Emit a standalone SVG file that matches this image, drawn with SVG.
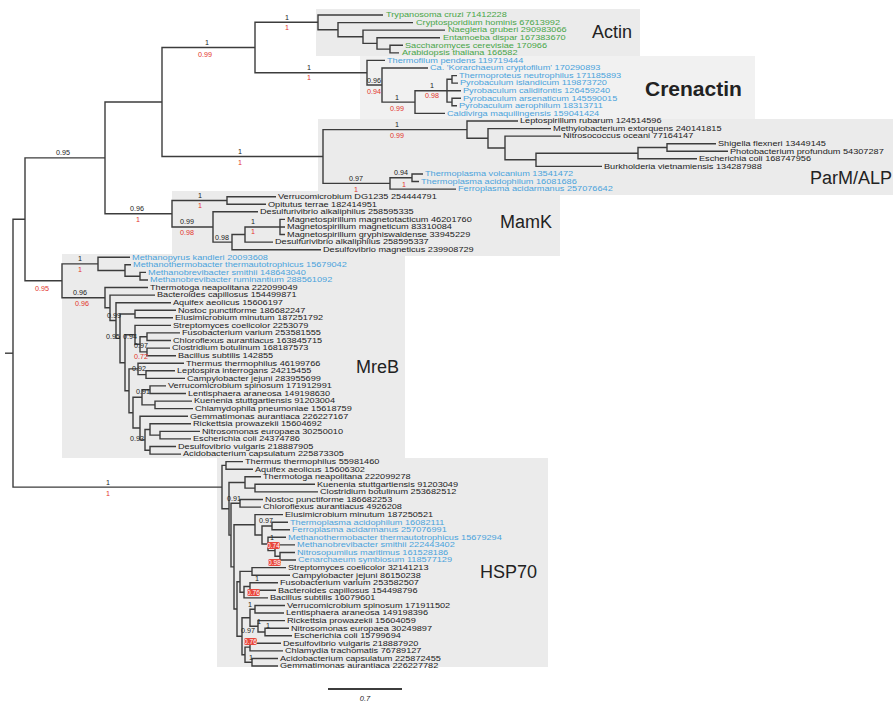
<svg xmlns="http://www.w3.org/2000/svg" width="893" height="703" viewBox="0 0 893 703">
<style>
text{font-family:"Liberation Sans",Arial,sans-serif}
.l,.g,.b{font-size:6.7px}
.l{fill:#222}
.g{fill:#48a548}
.b{fill:#4aa3dc}
.s{font-size:7.2px;fill:#222;text-anchor:middle}
.r{font-size:7.2px;fill:#e3342b;text-anchor:middle}
.rb rect{fill:#e8473d}
.rb text{font-size:6.6px;fill:#fff;text-anchor:middle}
.box{fill:#ebebeb}
.cl{font-size:18px;fill:#222}
#connectors path{fill:none;stroke:#3c3c3c;stroke-width:1.4}
</style>
<rect width="893" height="703" fill="#fff"/>
<g id="clade-boxes">
<g id="box-actin"><rect class="box" x="316" y="9" width="324" height="47"/><text class="cl" x="592" y="38">Actin</text></g>
<g id="box-crenactin"><rect x="360" y="56" width="395" height="63" fill="#f1f1f1"/><text x="645" y="96" style="font-size:21px;font-weight:bold;fill:#222">Crenactin</text></g>
<g id="box-parm"><rect class="box" x="318" y="119" width="575" height="76"/><text class="cl" x="810" y="184">ParM/ALP</text></g>
<g id="box-mamk"><rect class="box" x="172" y="191" width="388" height="65"/><text class="cl" x="500" y="228">MamK</text></g>
<g id="box-mreb"><rect class="box" x="62" y="254" width="343" height="204"/><text class="cl" x="356" y="373">MreB</text></g>
<g id="box-hsp70"><rect class="box" x="217" y="458" width="331" height="209"/><text class="cl" x="480" y="578">HSP70</text></g>
</g>
<g id="connectors">
<path d="M5,353.2H13"/>
<path d="M25,219.3H13V487.1H222"/>
<path d="M105,157.9H25V280.8H62"/>
<path d="M162,102H105V213.7H172"/>
<path d="M255,47.5H162V156.5H323"/>
<path d="M318,22.3H255V72.7H367"/>
<path d="M383,15H318V29.7H338"/>
<path d="M413,22.6H338V36.8H363"/>
<path d="M445,30.1H363V43.4H377"/>
<path d="M440,37.7H377V49.1H390"/>
<path d="M403,45.3H390V52.9H399"/>
<path d="M385,60.4H367V85H382"/>
<path d="M428,68H382V102.1H415"/>
<path d="M447,90.7H415V113.4H445"/>
<path d="M452,79.3H447V102.1H452M447,90.7H461"/>
<path d="M457,75.6H452V83.1H458"/>
<path d="M461,98.3H452V105.8H457"/>
<path d="M467,129.6H323V183.4H390"/>
<path d="M518,121H467V138.3H488"/>
<path d="M551,128.6H488V148H505"/>
<path d="M561,136.1H505V159.8H536"/>
<path d="M638,153.2H536V166.4H602"/>
<path d="M667,147.5H638V158.8H697"/>
<path d="M716,143.7H667V151.3H728"/>
<path d="M412,177.8H390V189.1H456"/>
<path d="M423,174H412V181.5H419"/>
<path d="M227,200.5H172V227H213"/>
<path d="M276,196.7H227V204.3H266"/>
<path d="M258,211.8H213V242.1H232"/>
<path d="M245,234.5H232V249.7H321"/>
<path d="M280,227H245V242.1H273"/>
<path d="M285,219.4H280V234.5H285M280,227H285"/>
<path d="M98,263.9H62V297.7H105"/>
<path d="M130,257.2H98V270.5H125"/>
<path d="M131,264.8H125V276.2H140"/>
<path d="M146,272.4H140V280H148"/>
<path d="M148,287.5H105V307.8H110"/>
<path d="M155,295.1H110V320.5H116"/>
<path d="M171,302.7H116V338.4H120"/>
<path d="M135,314H120V362.8H125"/>
<path d="M176,310.2H135V317.8H173"/>
<path d="M135,334.8H125V390.8H129"/>
<path d="M171,325.4H135V344.3H140"/>
<path d="M147,336.7H140V351.9H147"/>
<path d="M180,332.9H147V340.5H171"/>
<path d="M170,348.1H147V355.7H176"/>
<path d="M138,368.9H129V412.7H133"/>
<path d="M184,363.2H138V374.6H146"/>
<path d="M175,370.8H146V378.4H185"/>
<path d="M142,397.3H133V428H140"/>
<path d="M150,389.7H142V404.9H155"/>
<path d="M166,385.9H150V393.5H186"/>
<path d="M192,401.1H155V408.6H193"/>
<path d="M188,416.2H140V439.9H145"/>
<path d="M150,429.5H145V450.3H150"/>
<path d="M191,423.8H150V435.1H160"/>
<path d="M200,431.4H160V438.9H191"/>
<path d="M176,446.5H150V454.1H181"/>
<path d="M226,465.4H222V508.8H229"/>
<path d="M243,461.6H226V469.2H253"/>
<path d="M245,482.5H229V535.1H231"/>
<path d="M261,476.8H245V488.1H255"/>
<path d="M315,484.3H255V491.9H318"/>
<path d="M240,503.3H231V566.9H234"/>
<path d="M263,499.5H240V507.1H261"/>
<path d="M255,524.8H234V609H237"/>
<path d="M283,514.6H255V535H262"/>
<path d="M272,526H262V544H268"/>
<path d="M288,522.2H272V529.8H290"/>
<path d="M286,537.3H268V550.6H275"/>
<path d="M295,544.9H275V556.3H280"/>
<path d="M295,552.5H280V560H296"/>
<path d="M240,581.8H237V636.2H242"/>
<path d="M252,571.4H240V592.2H244"/>
<path d="M286,567.6H252V575.2H290"/>
<path d="M250,586.5H244V597.9H268"/>
<path d="M278,582.8H250V590.3H276"/>
<path d="M250,617.8H242V654.7H245"/>
<path d="M255,609.3H250V626.3H258"/>
<path d="M285,605.5H255V613H284"/>
<path d="M285,620.6H258V632H265"/>
<path d="M289,628.2H265V635.7H292"/>
<path d="M250,647.1H245V662.2H252"/>
<path d="M281,643.3H250V650.9H283"/>
<path d="M278,658.5H252V666H278"/>
<path d="M328,689H402" style="stroke-width:2"/>
</g>
<g id="scale-label"><text x="365" y="701" style="font-size:7.5px;font-style:italic;fill:#222;text-anchor:middle">0.7</text></g>
<g id="leaves-actin">
<g id="n0" transform="translate(386,17.3)"><text class="g" transform="scale(1.37,1)">Trypanosoma cruzi 71412228</text></g>
<g id="n1" transform="translate(416,24.9)"><text class="g" transform="scale(1.37,1)">Cryptosporidium hominis 67613992</text></g>
<g id="n2" transform="translate(448,32.4)"><text class="g" transform="scale(1.37,1)">Naegleria gruberi 290983066</text></g>
<g id="n3" transform="translate(443,40)"><text class="g" transform="scale(1.37,1)">Entamoeba dispar 167383670</text></g>
<g id="n4" transform="translate(405,47.6)"><text class="g" transform="scale(1.37,1)">Saccharomyces cerevisiae 170966</text></g>
<g id="n5" transform="translate(402,55.2)"><text class="g" transform="scale(1.37,1)">Arabidopsis thaliana 166582</text></g>
</g>
<g id="leaves-crenactin">
<g id="n6" transform="translate(387,62.7)"><text class="b" transform="scale(1.37,1)">Thermofilum pendens 119719444</text></g>
<g id="n7" transform="translate(430,70.3)"><text class="b" transform="scale(1.37,1)">Ca. 'Korarchaeum cryptofilum' 170290893</text></g>
<g id="n8" transform="translate(459,77.9)"><text class="b" transform="scale(1.37,1)">Thermoproteus neutrophilus 171185893</text></g>
<g id="n9" transform="translate(460,85.4)"><text class="b" transform="scale(1.37,1)">Pyrobaculum islandicum 119873720</text></g>
<g id="n10" transform="translate(463,93)"><text class="b" transform="scale(1.37,1)">Pyrobaculum calidifontis 126459240</text></g>
<g id="n11" transform="translate(463,100.6)"><text class="b" transform="scale(1.37,1)">Pyrobaculum arsenaticum 145590015</text></g>
<g id="n12" transform="translate(459,108.1)"><text class="b" transform="scale(1.37,1)">Pyrobaculum aerophilum 18313711</text></g>
<g id="n13" transform="translate(447,115.7)"><text class="b" transform="scale(1.37,1)">Caldivirga maquilingensis 159041424</text></g>
</g>
<g id="leaves-parm">
<g id="n14" transform="translate(520,123.3)"><text class="l" transform="scale(1.37,1)">Leptospirillum rubarum 124514596</text></g>
<g id="n15" transform="translate(553,130.9)"><text class="l" transform="scale(1.37,1)">Methylobacterium extorquens 240141815</text></g>
<g id="n16" transform="translate(563,138.4)"><text class="l" transform="scale(1.37,1)">Nitrosococcus oceani 77164147</text></g>
<g id="n17" transform="translate(718,146)"><text class="l" transform="scale(1.37,1)">Shigella flexneri 13449145</text></g>
<g id="n18" transform="translate(730,153.6)"><text class="l" transform="scale(1.37,1)">Photobacterium profundum 54307287</text></g>
<g id="n19" transform="translate(699,161.1)"><text class="l" transform="scale(1.37,1)">Escherichia coli 168747956</text></g>
<g id="n20" transform="translate(604,168.7)"><text class="l" transform="scale(1.37,1)">Burkholderia vietnamiensis 134287988</text></g>
<g id="n21" transform="translate(425,176.3)"><text class="b" transform="scale(1.37,1)">Thermoplasma volcanium 13541472</text></g>
<g id="n22" transform="translate(421,183.8)"><text class="b" transform="scale(1.37,1)">Thermoplasma acidophilum 16081686</text></g>
<g id="n23" transform="translate(458,191.4)"><text class="b" transform="scale(1.37,1)">Ferroplasma acidarmanus 257076642</text></g>
</g>
<g id="leaves-mamk">
<g id="n24" transform="translate(278,199)"><text class="l" transform="scale(1.37,1)">Verrucomicrobium DG1235 254444791</text></g>
<g id="n25" transform="translate(268,206.6)"><text class="l" transform="scale(1.37,1)">Opitutus terrae 182414951</text></g>
<g id="n26" transform="translate(260,214.1)"><text class="l" transform="scale(1.37,1)">Desulfurivibrio alkaliphilus 258595335</text></g>
<g id="n27" transform="translate(287,221.7)"><text class="l" transform="scale(1.37,1)">Magnetospirillum magnetotacticum 46201760</text></g>
<g id="n28" transform="translate(287,229.3)"><text class="l" transform="scale(1.37,1)">Magnetospirillum magneticum 83310084</text></g>
<g id="n29" transform="translate(287,236.8)"><text class="l" transform="scale(1.37,1)">Magnetospirillum gryphiswaldense 33945229</text></g>
<g id="n30" transform="translate(275,244.4)"><text class="l" transform="scale(1.37,1)">Desulfurivibrio alkaliphilus 258595337</text></g>
<g id="n31" transform="translate(323,252)"><text class="l" transform="scale(1.37,1)">Desulfovibrio magneticus 239908729</text></g>
</g>
<g id="leaves-mreb">
<g id="n32" transform="translate(132,259.5)"><text class="b" transform="scale(1.37,1)">Methanopyrus kandleri 20093608</text></g>
<g id="n33" transform="translate(133,267.1)"><text class="b" transform="scale(1.37,1)">Methanothermobacter thermautotrophicus 15679042</text></g>
<g id="n34" transform="translate(148,274.7)"><text class="b" transform="scale(1.37,1)">Methanobrevibacter smithii 148643040</text></g>
<g id="n35" transform="translate(150,282.3)"><text class="b" transform="scale(1.37,1)">Methanobrevibacter ruminantium 288561092</text></g>
<g id="n36" transform="translate(150,289.8)"><text class="l" transform="scale(1.37,1)">Thermotoga neapolitana 222099049</text></g>
<g id="n37" transform="translate(157,297.4)"><text class="l" transform="scale(1.37,1)">Bacteroides capillosus 154499871</text></g>
<g id="n38" transform="translate(173,305)"><text class="l" transform="scale(1.37,1)">Aquifex aeolicus 15606197</text></g>
<g id="n39" transform="translate(178,312.5)"><text class="l" transform="scale(1.37,1)">Nostoc punctiforme 186682247</text></g>
<g id="n40" transform="translate(175,320.1)"><text class="l" transform="scale(1.37,1)">Elusimicrobium minutum 187251792</text></g>
<g id="n41" transform="translate(173,327.7)"><text class="l" transform="scale(1.37,1)">Streptomyces coelicolor 2253079</text></g>
<g id="n42" transform="translate(182,335.2)"><text class="l" transform="scale(1.37,1)">Fusobacterium varium 253581555</text></g>
<g id="n43" transform="translate(173,342.8)"><text class="l" transform="scale(1.37,1)">Chloroflexus aurantiacus 163845715</text></g>
<g id="n44" transform="translate(172,350.4)"><text class="l" transform="scale(1.37,1)">Clostridium botulinum 168187573</text></g>
<g id="n45" transform="translate(178,358)"><text class="l" transform="scale(1.37,1)">Bacillus subtilis 142855</text></g>
<g id="n46" transform="translate(186,365.5)"><text class="l" transform="scale(1.37,1)">Thermus thermophilus 46199766</text></g>
<g id="n47" transform="translate(177,373.1)"><text class="l" transform="scale(1.37,1)">Leptospira interrogans 24215455</text></g>
<g id="n48" transform="translate(187,380.7)"><text class="l" transform="scale(1.37,1)">Campylobacter jejuni 283955699</text></g>
<g id="n49" transform="translate(168,388.2)"><text class="l" transform="scale(1.37,1)">Verrucomicrobium spinosum 171912991</text></g>
<g id="n50" transform="translate(188,395.8)"><text class="l" transform="scale(1.37,1)">Lentisphaera araneosa 149198630</text></g>
<g id="n51" transform="translate(194,403.4)"><text class="l" transform="scale(1.37,1)">Kuenenia stuttgartiensis 91203004</text></g>
<g id="n52" transform="translate(195,410.9)"><text class="l" transform="scale(1.37,1)">Chlamydophila pneumoniae 15618759</text></g>
<g id="n53" transform="translate(190,418.5)"><text class="l" transform="scale(1.37,1)">Gemmatimonas aurantiaca 226227167</text></g>
<g id="n54" transform="translate(193,426.1)"><text class="l" transform="scale(1.37,1)">Rickettsia prowazekii 15604692</text></g>
<g id="n55" transform="translate(202,433.7)"><text class="l" transform="scale(1.37,1)">Nitrosomonas europaea 30250010</text></g>
<g id="n56" transform="translate(193,441.2)"><text class="l" transform="scale(1.37,1)">Escherichia coli 24374786</text></g>
<g id="n57" transform="translate(178,448.8)"><text class="l" transform="scale(1.37,1)">Desulfovibrio vulgaris 218887905</text></g>
<g id="n58" transform="translate(183,456.4)"><text class="l" transform="scale(1.37,1)">Acidobacterium capsulatum 225873305</text></g>
</g>
<g id="leaves-hsp70">
<g id="n59" transform="translate(245,463.9)"><text class="l" transform="scale(1.37,1)">Thermus thermophilus 55981460</text></g>
<g id="n60" transform="translate(255,471.5)"><text class="l" transform="scale(1.37,1)">Aquifex aeolicus 15606302</text></g>
<g id="n61" transform="translate(263,479.1)"><text class="l" transform="scale(1.37,1)">Thermotoga neapolitana 222099278</text></g>
<g id="n62" transform="translate(317,486.6)"><text class="l" transform="scale(1.37,1)">Kuenenia stuttgartiensis 91203049</text></g>
<g id="n63" transform="translate(320,494.2)"><text class="l" transform="scale(1.37,1)">Clostridium botulinum 253682512</text></g>
<g id="n64" transform="translate(265,501.8)"><text class="l" transform="scale(1.37,1)">Nostoc punctiforme 186682253</text></g>
<g id="n65" transform="translate(263,509.3)"><text class="l" transform="scale(1.37,1)">Chloroflexus aurantiacus 4926208</text></g>
<g id="n66" transform="translate(285,516.9)"><text class="l" transform="scale(1.37,1)">Elusimicrobium minutum 187250521</text></g>
<g id="n67" transform="translate(290,524.5)"><text class="b" transform="scale(1.37,1)">Thermoplasma acidophilum 16082111</text></g>
<g id="n68" transform="translate(292,532.1)"><text class="b" transform="scale(1.37,1)">Ferroplasma acidarmanus 257076991</text></g>
<g id="n69" transform="translate(288,539.6)"><text class="b" transform="scale(1.37,1)">Methanothermobacter thermautotrophicus 15679294</text></g>
<g id="n70" transform="translate(297,547.2)"><text class="b" transform="scale(1.37,1)">Methanobrevibacter smithii 222443402</text></g>
<g id="n71" transform="translate(297,554.8)"><text class="b" transform="scale(1.37,1)">Nitrosopumilus maritimus 161528186</text></g>
<g id="n72" transform="translate(298,562.3)"><text class="b" transform="scale(1.37,1)">Cenarchaeum symbiosum 118577129</text></g>
<g id="n73" transform="translate(288,569.9)"><text class="l" transform="scale(1.37,1)">Streptomyces coelicolor 32141213</text></g>
<g id="n74" transform="translate(292,577.5)"><text class="l" transform="scale(1.37,1)">Campylobacter jejuni 86150238</text></g>
<g id="n75" transform="translate(280,585.1)"><text class="l" transform="scale(1.37,1)">Fusobacterium varium 253582507</text></g>
<g id="n76" transform="translate(278,592.6)"><text class="l" transform="scale(1.37,1)">Bacteroides capillosus 154498796</text></g>
<g id="n77" transform="translate(270,600.2)"><text class="l" transform="scale(1.37,1)">Bacillus subtilis 16079601</text></g>
<g id="n78" transform="translate(287,607.8)"><text class="l" transform="scale(1.37,1)">Verrucomicrobium spinosum 171911502</text></g>
<g id="n79" transform="translate(286,615.3)"><text class="l" transform="scale(1.37,1)">Lentisphaera araneosa 149198396</text></g>
<g id="n80" transform="translate(287,622.9)"><text class="l" transform="scale(1.37,1)">Rickettsia prowazekii 15604059</text></g>
<g id="n81" transform="translate(291,630.5)"><text class="l" transform="scale(1.37,1)">Nitrosomonas europaea 30249897</text></g>
<g id="n82" transform="translate(294,638)"><text class="l" transform="scale(1.37,1)">Escherichia coli 15799694</text></g>
<g id="n83" transform="translate(283,645.6)"><text class="l" transform="scale(1.37,1)">Desulfovibrio vulgaris 218887920</text></g>
<g id="n84" transform="translate(285,653.2)"><text class="l" transform="scale(1.37,1)">Chlamydia trachomatis 76789127</text></g>
<g id="n85" transform="translate(280,660.7)"><text class="l" transform="scale(1.37,1)">Acidobacterium capsulatum 225872455</text></g>
<g id="n86" transform="translate(280,668.3)"><text class="l" transform="scale(1.37,1)">Gemmatimonas aurantiaca 226227782</text></g>
</g>
<g id="support">
<text class="s" x="63" y="155">0.95</text><text class="r" x="42" y="291">0.95</text>
<text class="s" x="137" y="211">0.96</text><text class="r" x="138" y="222">1</text>
<text class="s" x="207" y="45">1</text><text class="r" x="205" y="57">0.99</text>
<text class="s" x="240" y="154">1</text><text class="r" x="240" y="165">1</text>
<text class="s" x="287" y="20">1</text><text class="r" x="287" y="30">1</text>
<text class="s" x="309" y="70">1</text><text class="r" x="309" y="80">1</text>
<text class="s" x="108" y="485">1</text><text class="r" x="108" y="496">1</text>
<text class="s" x="374" y="83">0.96</text><text class="r" x="374" y="94">0.94</text>
<text class="s" x="397" y="100">1</text><text class="r" x="397" y="111">0.99</text>
<text class="s" x="432" y="88">1</text><text class="r" x="432" y="98">0.98</text>
<text class="s" x="397" y="127">1</text><text class="r" x="397" y="138">0.99</text>
<text class="s" x="356" y="181">0.97</text><text class="r" x="356" y="192">1</text>
<text class="s" x="401" y="175">0.94</text><text class="r" x="404" y="187">1</text>
<text class="s" x="200" y="198">1</text><text class="r" x="200" y="208">1</text>
<text class="s" x="187" y="224">0.99</text><text class="r" x="187" y="235">0.98</text>
<text class="s" x="222" y="240">0.98</text>
<text class="s" x="253" y="224">1</text><text class="r" x="253" y="234">1</text>
<text class="s" x="80" y="261">1</text><text class="r" x="80" y="272">1</text>
<text class="s" x="80" y="295">0.96</text><text class="r" x="82" y="306">0.96</text>
<text class="s" x="114" y="318">0.99</text>
<text class="s" x="113" y="339">0.95</text><text class="s" x="130" y="339">0.94</text>
<text class="s" x="141" y="348">0.97</text><text class="r" x="141" y="359">0.72</text>
<text class="s" x="139" y="371">0.92</text>
<text class="s" x="143" y="394">0.91</text>
<text class="s" x="137" y="441">0.93</text>
<text class="s" x="234" y="501">0.91</text>
<text class="s" x="266" y="523">0.97</text>
<text class="s" x="272" y="540">1</text>
<g class="rb"><rect x="267" y="542" width="13" height="7" rx="2"/><text x="273.5" y="547.8">0.74</text></g>
<g class="rb"><rect x="268" y="559" width="13" height="7" rx="2"/><text x="274.5" y="564.8">0.98</text></g>
<text class="s" x="257" y="581">1</text>
<g class="rb"><rect x="247" y="589" width="13" height="7" rx="2"/><text x="253.5" y="594.8">0.76</text></g>
<text class="s" x="250" y="607">1</text>
<text class="s" x="259" y="624">1</text><text class="s" x="268" y="628">1</text>
<text class="s" x="248" y="633">0.97</text>
<g class="rb"><rect x="244" y="638" width="13" height="7" rx="2"/><text x="250.5" y="643.8">0.76</text></g>
<text class="s" x="251" y="660">1</text>
</g>
</svg>
